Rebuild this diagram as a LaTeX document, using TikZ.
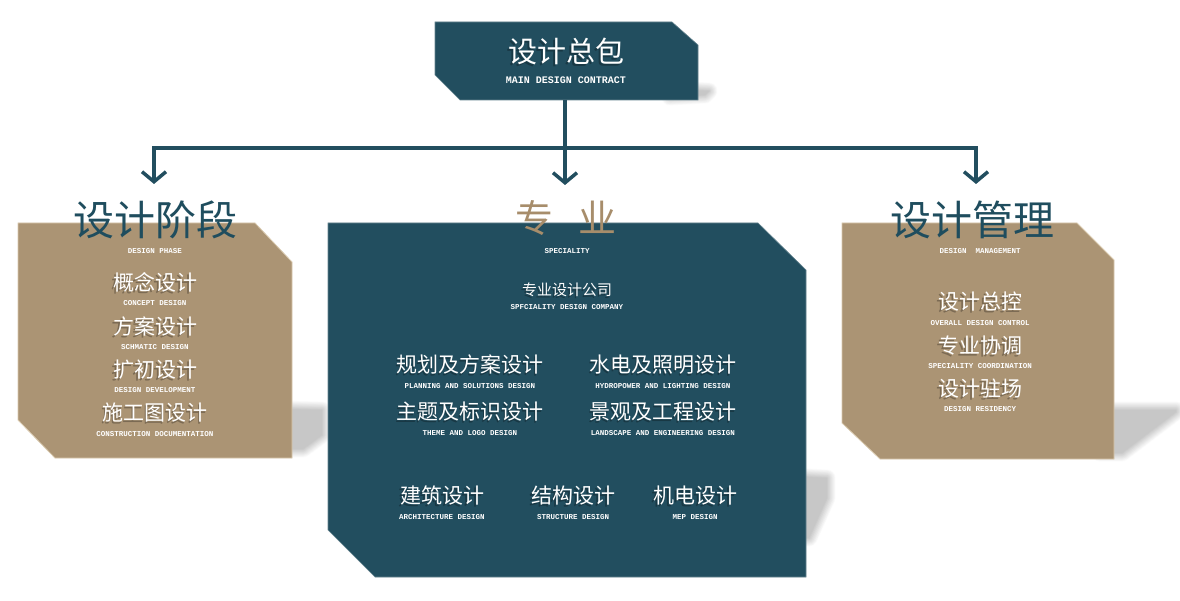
\documentclass[tikz,border=0pt]{standalone}
\usepackage{fontspec}
\newfontfamily\cjk{Noto Sans CJK SC}
\newfontfamily\lab{Liberation Mono}
\usetikzlibrary{arrows.meta}
\definecolor{dteal}{HTML}{224E5F}
\definecolor{tteal}{HTML}{1F4D5E}
\definecolor{tanbox}{HTML}{AB9474}
\definecolor{tantext}{HTML}{A78D6B}
\definecolor{tanedge}{HTML}{D9C9AE}
\newcommand\zhnode[5]{%
  \node[anchor=base, inner sep=0, text=black, text opacity=0.28, font=\cjk\fontsize{#4}{#4}\selectfont, yshift={-0.37*#4pt-1.5pt}, xshift=-1.5pt] (#1s) at (#2) {#3};
  \node[anchor=base, inner sep=0, text=#5, font=\cjk\fontsize{#4}{#4}\selectfont, yshift={-0.37*#4pt}] (#1) at (#2) {#3};}
\newcommand\zhtitle[5]{%
  \node[anchor=base, inner sep=0, text=#5, font=\cjk\fontsize{#4}{#4}\selectfont, yshift={-0.37*#4pt}] (#1) at (#2) {#3};}
\newcommand\ennode[4]{\node[anchor=base, inner sep=0, text=white, font=\lab\bfseries\fontsize{#4}{#4}\selectfont, yshift={-0.33*#4pt}] (#1) at (#2) {#3};}
\newcommand\softshadow[1]{%
  \foreach \i in {12,...,1}{%
    \pgfmathsetmacro\c{22*(1-\i/13)}%
    \draw[black!\c, line width=\i*1.4pt, line join=round] #1;}%
  \fill[black!22] #1;}
\begin{document}
\begin{tikzpicture}[x=1pt,y=-1pt,
  conn/.style={draw=dteal, line width=3.5pt},
  arr/.style={-{Straight Barb[length=10pt,width=24pt,line width=3.5pt]}},
  tealbox/.style={fill=dteal, draw=dteal!70!white, line width=0.6pt},
  tanpoly/.style={fill=tanbox, draw=tanedge, line width=0.8pt}]
\useasboundingbox (0,0) rectangle (1180,601);
\fill[white] (0,0) rectangle (1180,601);

% shadows
\softshadow{(670,89) -- (709,91) -- (705,95) -- (670,97) -- cycle}
\softshadow{(280,409) -- (322,410) -- (322,435) -- (303,449) -- (280,449) -- cycle}
\softshadow{(1100,410) -- (1176,410) -- (1176,412) -- (1122,453) -- (1100,453) -- cycle}
\softshadow{(790,476) -- (827,478) -- (827,498) -- (809,538) -- (790,538) -- cycle}

% boxes
\path[tealbox] (435,22) -- (672,22) -- (698,45) -- (698,100) -- (460,100) -- (435,75) -- cycle;
\path[tanpoly] (18,223) -- (255,223) -- (292,262) -- (292,458) -- (55,458) -- (18,420) -- cycle;
\path[tealbox] (328,223) -- (758,223) -- (806,270) -- (806,577) -- (375,577) -- (328,530) -- cycle;
\path[tanpoly] (842,223) -- (1077,223) -- (1114,260) -- (1114,459) -- (880,459) -- (842,423) -- cycle;

% connectors
\coordinate (topB) at (565,100);
\coordinate (hubL) at (154,148);
\coordinate (hubM) at (565,148);
\coordinate (hubR) at (976,148);
\coordinate (tipL) at (154,184);
\coordinate (tipM) at (565,185);
\coordinate (tipR) at (976,184);
\draw[conn, arr, line join=miter] (hubM) -- (hubL) -- (tipL);
\draw[conn, arr, line join=miter] (hubM) -- (hubR) -- (tipR);
\draw[conn, arr] (topB) -- (tipM);

% top box text
\zhnode{t0}{566,52}{设计总包}{29}{white}
\ennode{t0e}{566,80}{MAIN DESIGN CONTRACT}{10}

% left box
\zhtitle{l0}{155,220}{设计阶段}{41}{tteal}
\ennode{l0e}{155,251}{DESIGN PHASE}{7.5}
\zhnode{l1}{155,283}{概念设计}{21}{white}
\ennode{l1e}{155,303}{CONCEPT DESIGN}{7.5}
\zhnode{l2}{155,327}{方案设计}{21}{white}
\ennode{l2e}{155,347}{SCHMATIC DESIGN}{7.5}
\zhnode{l3}{155,370}{扩初设计}{21}{white}
\ennode{l3e}{155,390}{DESIGN DEVELOPMENT}{7.5}
\zhnode{l4}{155,413}{施工图设计}{21}{white}
\ennode{l4e}{155,434}{CONSTRUCTION DOCUMENTATION}{7.5}

% middle box
\zhtitle{m0}{566,218}{专\hspace{25pt}业}{38}{tantext}
\ennode{m0e}{567,251}{SPECIALITY}{7.5}
\zhnode{m1}{567,290}{专业设计公司}{15}{white}
\ennode{m1e}{567,307}{SPFCIALITY DESIGN COMPANY}{7.5}
\zhnode{m2}{470,365}{规划及方案设计}{21}{white}
\ennode{m2e}{470,386}{PLANNING AND SOLUTIONS DESIGN}{7.5}
\zhnode{m3}{663,365}{水电及照明设计}{21}{white}
\ennode{m3e}{663,386}{HYDROPOWER AND LIGHTING DESIGN}{7.5}
\zhnode{m4}{470,412}{主题及标识设计}{21}{white}
\ennode{m4e}{470,433}{THEME AND LOGO DESIGN}{7.5}
\zhnode{m5}{663,412}{景观及工程设计}{21}{white}
\ennode{m5e}{663,433}{LANDSCAPE AND ENGINEERING DESIGN}{7.5}
\zhnode{m6}{442,496}{建筑设计}{21}{white}
\ennode{m6e}{442,517}{ARCHITECTURE DESIGN}{7.5}
\zhnode{m7}{573,496}{结构设计}{21}{white}
\ennode{m7e}{573,517}{STRUCTURE DESIGN}{7.5}
\zhnode{m8}{695,496}{机电设计}{21}{white}
\ennode{m8e}{695,517}{MEP DESIGN}{7.5}

% right box
\zhtitle{r0}{972,220}{设计管理}{41}{tteal}
\ennode{r0e}{980,251}{DESIGN\ \ MANAGEMENT}{7.5}
\zhnode{r1}{980,302}{设计总控}{21}{white}
\ennode{r1e}{980,323}{OVERALL DESIGN CONTROL}{7.5}
\zhnode{r2}{980,346}{专业协调}{21}{white}
\ennode{r2e}{980,366}{SPECIALITY COORDINATION}{7.5}
\zhnode{r3}{980,389}{设计驻场}{21}{white}
\ennode{r3e}{980,409}{DESIGN RESIDENCY}{7.5}
\end{tikzpicture}
\end{document}
